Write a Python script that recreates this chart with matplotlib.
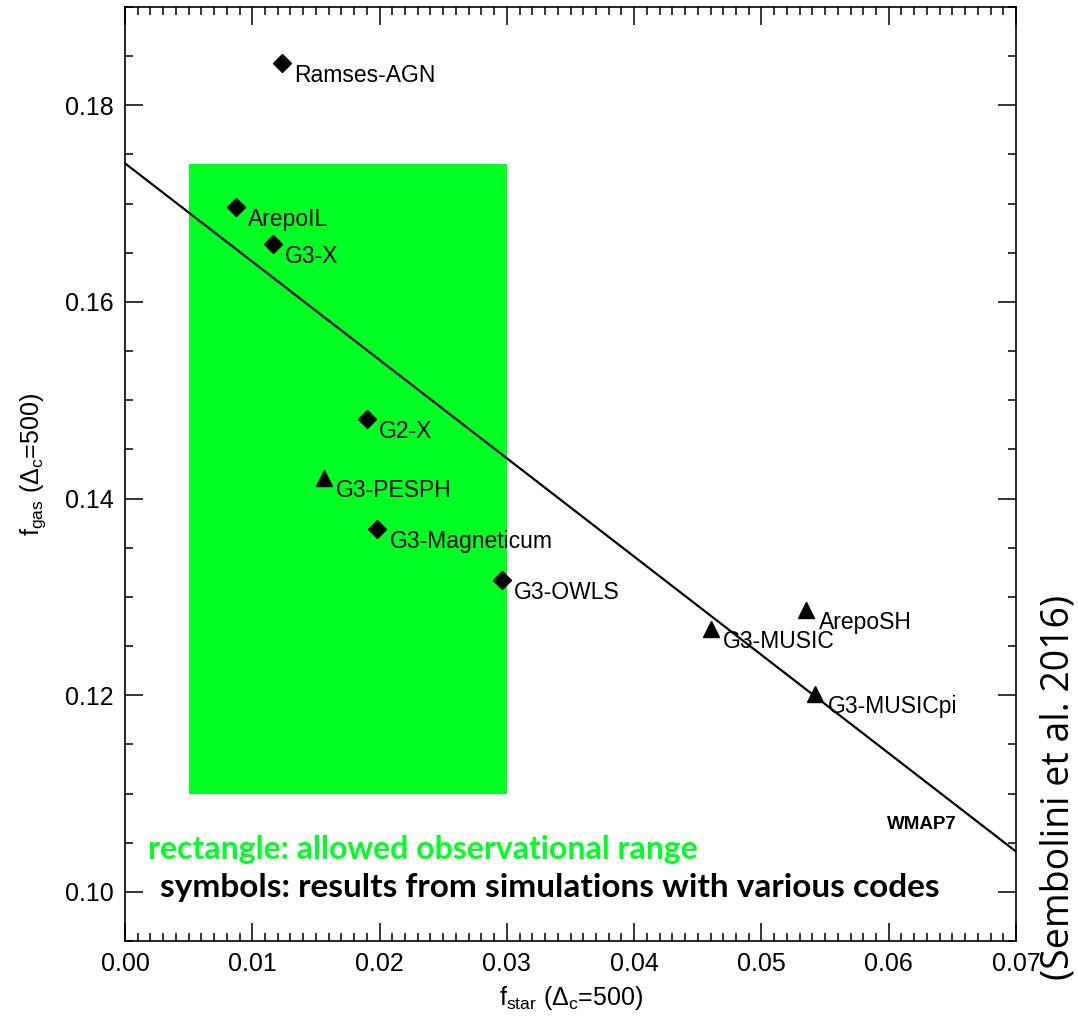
import matplotlib
matplotlib.use("Agg")
import matplotlib.pyplot as plt
import numpy as np
from matplotlib.ticker import MultipleLocator, FormatStrFormatter

# data
names = ["Ramses-AGN", "ArepoIL", "G3-X", "G2-X", "G3-PESPH", "G3-Magneticum",
         "G3-OWLS", "G3-MUSIC", "ArepoSH", "G3-MUSICpi"]
f_star = [0.0123, 0.0087, 0.0116, 0.0190, 0.0156, 0.0198, 0.0296, 0.0460, 0.0535, 0.0542]
f_gas = [0.1843, 0.1697, 0.1659, 0.1481, 0.1421, 0.1369, 0.1317, 0.1267, 0.1287, 0.1201]
markers = ["D", "D", "D", "D", "^", "D", "D", "^", "^", "^"]

baryon_frac = 0.1741   # WMAP7 line: f_gas = baryon_frac - f_star
rect_x = [0.005, 0.030]
rect_y = [0.110, 0.174]

plt.rcParams['font.family'] = ['Liberation Sans', 'DejaVu Sans']
plt.rcParams['mathtext.fontset'] = 'custom'
plt.rcParams['mathtext.rm'] = 'Liberation Sans'
plt.rcParams['mathtext.it'] = 'Liberation Sans:italic'
plt.rcParams['mathtext.bf'] = 'Liberation Sans:bold'

fig = plt.figure(figsize=(10.78, 10.18), dpi=100)
ax = fig.add_axes([125/1078, 1 - 941/1018, (1016-125)/1078, (941-7)/1018])

green = '#00FF22'
ax.fill_between(rect_x, rect_y[0], rect_y[1], color=green, lw=0, zorder=1)

xl = np.array([0.0, 0.07])
ax.plot(xl, baryon_frac - xl, color='black', lw=1.6, zorder=2)

for x, y, m, n in zip(f_star, f_gas, markers, names):
    ms = 9 if m == 'D' else 11
    ax.plot([x], [y], marker=m, color='black', ms=ms, ls='none', zorder=3)
    ax.annotate(n, (x, y), xytext=(9, -9), textcoords='offset points',
                ha='left', va='center', fontsize=16.5, zorder=4)

ax.text(0.0626, 0.1068, "WMAP7", fontsize=13.5, fontweight='bold', ha='center', va='center')

ax.set_xlim(0, 0.07)
ax.set_ylim(0.095, 0.19)
ax.xaxis.set_major_locator(MultipleLocator(0.01))
ax.xaxis.set_minor_locator(MultipleLocator(0.001))
ax.yaxis.set_major_locator(MultipleLocator(0.02))
ax.yaxis.set_minor_locator(MultipleLocator(0.005))
ax.xaxis.set_major_formatter(FormatStrFormatter('%.2f'))
ax.yaxis.set_major_formatter(FormatStrFormatter('%.2f'))
ax.tick_params(which='both', direction='in', top=True, right=True, width=1.1, labelsize=18)
ax.tick_params(which='major', length=13, pad=8)
ax.tick_params(which='minor', length=6)
for s in ax.spines.values():
    s.set_linewidth(1.2)

fig.text(571/1078, 1 - 998/1018, r"f$_{\mathrm{star}}$ (Δ$_{\mathrm{c}}$=500)", fontsize=18,
         ha='center', va='center')
fig.text(33/1078, 1 - 465/1018, r"f$_{\mathrm{gas}}$ (Δ$_{\mathrm{c}}$=500)", fontsize=18,
         ha='center', va='center', rotation=90)

fig.text(148/1078, 1 - 850/1018, "rectangle: allowed observational range", color=green,
         fontsize=23, fontweight='bold', family=['Lato', 'DejaVu Sans'], ha='left', va='center')
fig.text(160/1078, 1 - 887/1018, "symbols: results from simulations with various codes",
         color='black', fontsize=24, fontweight='bold', family=['Lato', 'DejaVu Sans'],
         ha='left', va='center')
fig.text(1058/1078, 1 - 787/1018, "(Sembolini et al. 2016)", fontsize=27, rotation=90,
         family=['Open Sans', 'DejaVu Sans'], ha='center', va='center')

fig.savefig("out.png", dpi=100)
